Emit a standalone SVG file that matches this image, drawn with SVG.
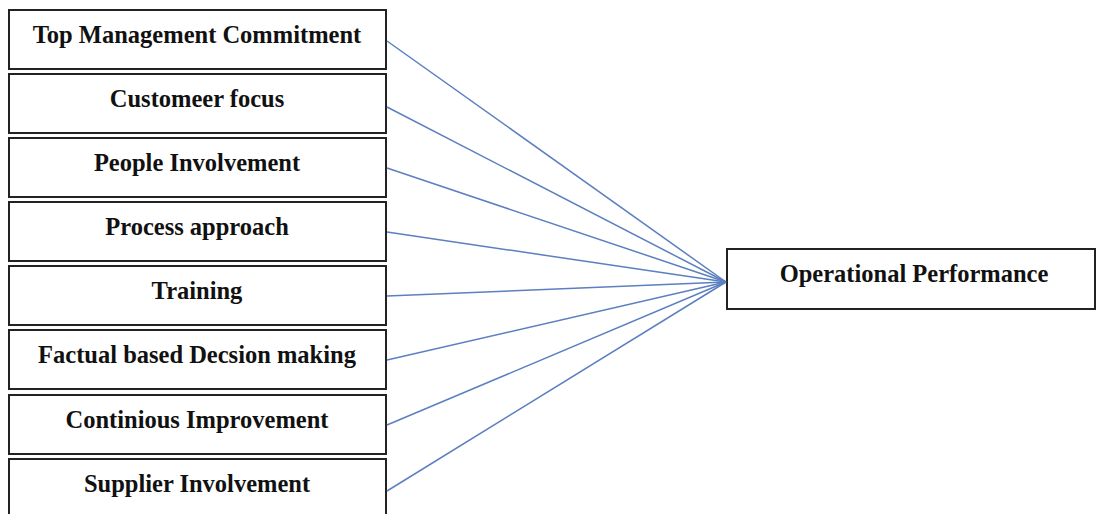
<svg xmlns="http://www.w3.org/2000/svg" width="1096" height="514" viewBox="0 0 1096 514">
<style>
.box{fill:#fff;stroke:#222;stroke-width:2}
.lbl{font-family:"Liberation Serif","Times New Roman",serif;font-weight:bold;font-size:24.5px;fill:#111;text-anchor:middle}
.con line{stroke:#5b7fc0;stroke-width:1.5}
</style>
<rect width="1096" height="514" fill="#fff"/>
<g id="n1"><rect class="box" x="9" y="10" width="377" height="59"/><text class="lbl" x="197" y="43">Top Management Commitment</text></g>
<g id="n2"><rect class="box" x="9" y="74" width="377" height="59"/><text class="lbl" x="197" y="107">Customeer focus</text></g>
<g id="n3"><rect class="box" x="9" y="138" width="377" height="59"/><text class="lbl" x="197" y="171">People Involvement</text></g>
<g id="n4"><rect class="box" x="9" y="202" width="377" height="59"/><text class="lbl" x="197" y="235">Process approach</text></g>
<g id="n5"><rect class="box" x="9" y="266" width="377" height="59"/><text class="lbl" x="197" y="299">Training</text></g>
<g id="n6"><rect class="box" x="9" y="330" width="377" height="59"/><text class="lbl" x="197" y="363">Factual based Decsion making</text></g>
<g id="n7"><rect class="box" x="9" y="395" width="377" height="59"/><text class="lbl" x="197" y="428">Continious Improvement</text></g>
<g id="n8"><rect class="box" x="9" y="459" width="377" height="70"/><text class="lbl" x="197" y="492">Supplier Involvement</text></g>
<g id="out"><rect class="box" x="727" y="249" width="368" height="60"/><text class="lbl" x="914" y="282">Operational Performance</text></g>
<g class="con" id="connectors">
<line x1="387" y1="41" x2="726" y2="282"/>
<line x1="387" y1="107" x2="726" y2="282"/>
<line x1="387" y1="168" x2="726" y2="282"/>
<line x1="387" y1="232" x2="726" y2="282"/>
<line x1="387" y1="296" x2="726" y2="282"/>
<line x1="387" y1="360" x2="726" y2="282"/>
<line x1="387" y1="425" x2="726" y2="282"/>
<line x1="387" y1="491" x2="726" y2="282"/>
</g>
</svg>
